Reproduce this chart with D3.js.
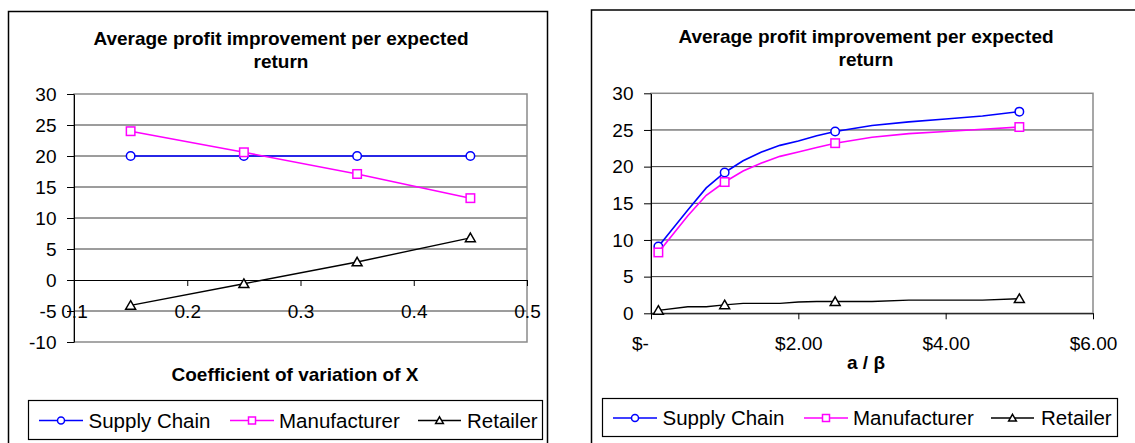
<!DOCTYPE html>
<html>
<head>
<meta charset="utf-8">
<script src="https://cdn.jsdelivr.net/npm/d3@7"></script>
<style>
  body { margin: 0; background: #fff; }
  svg text { font-family: Arial, "Liberation Sans", sans-serif; fill: #000; }
</style>
</head>
<body>
<svg id="chart" width="1135" height="443"></svg>
<script>
// ---- Left panel: profit improvement vs coefficient of variation of X ----
const cvValues = [0.15, 0.25, 0.35, 0.45];
const cvSupplyChain = [20, 20, 20, 20];
const cvManufacturer = [24, 20.6, 17.1, 13.2];
const cvRetailer = [-4.1, -0.6, 2.9, 6.8];
const cvXTicks = [0.1, 0.2, 0.3, 0.4, 0.5];
const cvYTicks = [-10, -5, 0, 5, 10, 15, 20, 25, 30];

// ---- Right panel: profit improvement vs a / beta ----
const ratioValues = [0.1, 0.5, 0.75, 1, 1.25, 1.5, 1.75, 2, 2.25, 2.5, 3, 3.5, 4, 4.5, 5];
const ratioSupplyChain = [9.1, 14.1, 17.1, 19.2, 20.8, 22.0, 22.9, 23.5, 24.2, 24.8, 25.6, 26.1, 26.5, 26.9, 27.5];
const ratioManufacturer = [8.3, 13.3, 16.1, 17.9, 19.4, 20.5, 21.4, 22.0, 22.6, 23.2, 24.0, 24.5, 24.8, 25.1, 25.4];
const ratioRetailer = [0.4, 0.9, 0.9, 1.15, 1.35, 1.35, 1.35, 1.55, 1.6, 1.6, 1.6, 1.8, 1.8, 1.8, 2.0];
const ratioMarked = [0.1, 1, 2.5, 5];
const ratioXTicks = [0, 2, 4, 6];
const ratioYTicks = [0, 5, 10, 15, 20, 25, 30];

const seriesNames = ["Supply Chain", "Manufacturer", "Retailer"];
const seriesColors = ["#0000ff", "#ff00ff", "#000000"];
const seriesSymbols = ["circle", "square", "triangle"];
const chartTitle = ["Average profit improvement per expected", "return"];

const svg = d3.select("#chart");
const TICK_FONT = 19;
// integer labels with a plain hyphen for negatives
const intFormat = d => String(d);

function drawMarker(g, kind, cx, cy, color, s) {
  if (kind === "circle") {
    g.append("circle").attr("cx", cx).attr("cy", cy).attr("r", s * 0.5)
      .attr("fill", "#fff").attr("stroke", color).attr("stroke-width", 1.5);
  } else if (kind === "square") {
    g.append("rect").attr("x", cx - s / 2).attr("y", cy - s / 2)
      .attr("width", s).attr("height", s)
      .attr("fill", "#fff").attr("stroke", color).attr("stroke-width", 1.5);
  } else {
    const h = s * 0.5;
    g.append("path")
      .attr("d", `M${cx},${cy - h * 1.05}L${cx + h * 1.1},${cy + h * 0.85}L${cx - h * 1.1},${cy + h * 0.85}Z`)
      .attr("fill", "#fff").attr("stroke", color).attr("stroke-width", 1.5);
  }
}

function drawPanel(cfg) {
  const g = svg.append("g");
  const x = d3.scaleLinear().domain(cfg.xDomain).range([cfg.left, cfg.right]);
  const y = d3.scaleLinear().domain(cfg.yDomain).range([cfg.bottom, cfg.top]);

  // outer chart frame
  g.append("rect").attr("x", cfg.frame[0]).attr("y", cfg.frame[1])
    .attr("width", cfg.frame[2]).attr("height", cfg.frame[3])
    .attr("fill", "none").attr("stroke", "#000").attr("stroke-width", 1.5);

  // title
  cfg.titleBaselines.forEach((b, i) => {
    g.append("text").attr("x", cfg.titleX).attr("y", b)
      .attr("text-anchor", "middle").attr("font-weight", "bold")
      .attr("font-size", 19).text(chartTitle[i]);
  });

  // horizontal gridlines
  g.append("g").selectAll("line")
    .data(cfg.yTicks.filter(v => v !== cfg.yDomain[0] && v !== cfg.yDomain[1] && v !== 0))
    .join("line")
    .attr("x1", cfg.left).attr("x2", cfg.right)
    .attr("y1", d => y(d)).attr("y2", d => y(d))
    .attr("stroke", "#3a3a3a").attr("stroke-width", 1);

  // plot area border
  g.append("rect").attr("x", cfg.left).attr("y", cfg.top)
    .attr("width", cfg.right - cfg.left).attr("height", cfg.bottom - cfg.top)
    .attr("fill", "none").attr("stroke", "#8a8a8a").attr("stroke-width", 1.5);

  // y axis
  const yAxis = g.append("g").attr("transform", `translate(${cfg.left},0)`)
    .call(d3.axisLeft(y).tickValues(cfg.yTicks).tickSize(7).tickSizeOuter(0).tickPadding(10.5)
      .tickFormat(intFormat));
  yAxis.selectAll("text").attr("font-size", TICK_FONT).attr("fill", "#000")
    .attr("font-family", "Arial, 'Liberation Sans', sans-serif");
  yAxis.selectAll("line,path").attr("stroke", "#000");

  // x axis crossing at zero
  const xAxis = g.append("g").attr("transform", `translate(0,${y(0)})`)
    .call(d3.axisBottom(x).tickValues(cfg.xTicks).tickSize(6).tickSizeOuter(0)
      .tickFormat(cfg.xFormat));
  xAxis.selectAll("text").attr("font-size", TICK_FONT).attr("fill", "#000")
    .attr("font-family", "Arial, 'Liberation Sans', sans-serif")
    .attr("y", cfg.xLabelOffset).attr("dy", "0.35em")
    .attr("dx", d => (cfg.xLabelShift ? cfg.xLabelShift(d) : 0));
  xAxis.selectAll("line,path").attr("stroke", "#000");

  // axis title
  g.append("text").attr("x", cfg.axisTitleX).attr("y", cfg.axisTitleY)
    .attr("text-anchor", "middle").attr("font-weight", "bold")
    .attr("font-size", 19).text(cfg.axisTitle);

  // series
  const line = d3.line().x(d => x(d[0])).y(d => y(d[1]));
  cfg.series.forEach((vals, i) => {
    const pts = cfg.xValues.map((xv, j) => [xv, vals[j]]);
    g.append("path").datum(pts).attr("d", line)
      .attr("fill", "none").attr("stroke", seriesColors[i])
      .attr("stroke-width", i === 2 ? 1.4 : 1.6);
    pts.filter(p => cfg.marked(p[0])).forEach(p => {
      drawMarker(g, seriesSymbols[i], x(p[0]), y(p[1]), seriesColors[i], i === 2 ? 9 : 8.5);
    });
  });

  // legend
  const L = cfg.legend;
  g.append("rect").attr("x", L.box[0]).attr("y", L.box[1])
    .attr("width", L.box[2]).attr("height", L.box[3])
    .attr("fill", "#fff").attr("stroke", "#000").attr("stroke-width", 1.2);
  seriesNames.forEach((name, i) => {
    const it = L.items[i];
    g.append("line").attr("x1", it[0]).attr("x2", it[1])
      .attr("y1", L.cy).attr("y2", L.cy)
      .attr("stroke", seriesColors[i]).attr("stroke-width", 1.4);
    drawMarker(g, seriesSymbols[i], (it[0] + it[1]) / 2, L.cy, seriesColors[i], 7);
    g.append("text").attr("x", it[2]).attr("y", L.cy).attr("dy", "0.36em")
      .attr("font-size", 20.5).text(name);
  });
}

drawPanel({
  frame: [8.5, 11.5, 539, 450],
  titleX: 281, titleBaselines: [45, 67.5],
  left: 74, right: 527, top: 94, bottom: 342,
  xDomain: [0.1, 0.5], yDomain: [-10, 30],
  xTicks: cvXTicks, yTicks: cvYTicks,
  xFormat: d3.format(".1f"), xLabelOffset: 31,
  axisTitle: "Coefficient of variation of X", axisTitleX: 295, axisTitleY: 381,
  xValues: cvValues, series: [cvSupplyChain, cvManufacturer, cvRetailer],
  marked: () => true,
  legend: {
    box: [28.5, 400.5, 514, 39], cy: 420.5,
    items: [[39, 83, 88.5], [230, 274, 279], [418, 461, 467]]
  }
});

drawPanel({
  frame: [591.5, 10, 600, 450],
  titleX: 866, titleBaselines: [43, 66],
  left: 651, right: 1093, top: 93.3, bottom: 313.3,
  xDomain: [0, 6], yDomain: [0, 30],
  xTicks: ratioXTicks, yTicks: ratioYTicks,
  xFormat: d => d === 0 ? "$-" : "$" + d3.format(".2f")(d),
  xLabelShift: d => d === 0 ? -11 : 0,
  xLabelOffset: 30,
  axisTitle: "a / β", axisTitleX: 866, axisTitleY: 369,
  xValues: ratioValues, series: [ratioSupplyChain, ratioManufacturer, ratioRetailer],
  marked: v => ratioMarked.includes(v),
  legend: {
    box: [602.5, 398.5, 515, 38], cy: 418,
    items: [[613, 657, 662.5], [804, 848, 853], [991, 1034, 1041]]
  }
});
</script>
</body>
</html>
